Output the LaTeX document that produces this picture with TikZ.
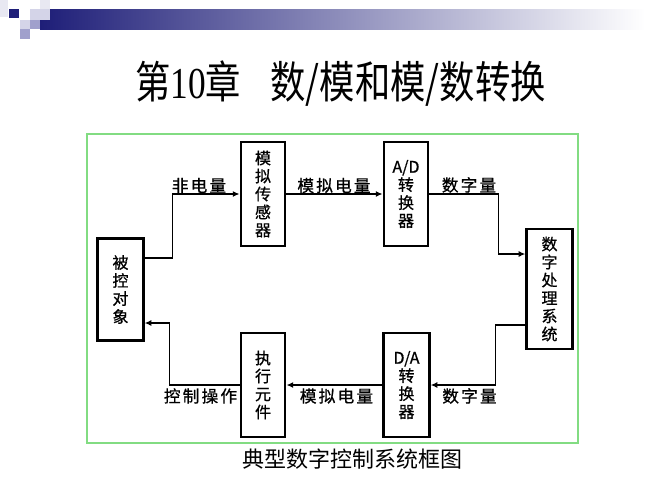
\documentclass[tikz,border=0pt]{standalone}
\usepackage{fontspec}
\usepackage{tikz}
\usetikzlibrary{arrows.meta,calc}
\newfontfamily\cjk{Noto Sans CJK SC}
\newfontfamily\cjkbox[FakeBold=0.8]{Noto Sans CJK SC}
\newfontfamily\cjksig[LetterSpace=13,FakeBold=0.8]{Noto Sans CJK SC}
\newfontfamily\titleserif{Liberation Serif}
\definecolor{slidenavy}{RGB}{30,30,120}
\definecolor{framegreen}{RGB}{130,220,130}
\definecolor{sqlight}{RGB}{212,212,232}
\definecolor{sqmid}{RGB}{160,160,204}
\definecolor{sqpale}{RGB}{232,232,242}
\tikzset{
	blockbox/.style={draw, line width=2.2pt, inner sep=0pt, minimum width=33pt, minimum height=78pt, align=center, font={\cjkbox\fontsize{12pt}{13.5pt}\selectfont}},
	flow/.style={line width=1.1pt, -{Latex[length=5pt,width=4.5pt]}},
	sigtext/.style={inner sep=0pt, font={\cjksig\fontsize{12.5pt}{13.5pt}\selectfont}},
}

\begin{document}
\begin{tikzpicture}[x=0.75pt, y=-0.75pt]
	\useasboundingbox (0,0) rectangle (667,500);
	% Slide header:
	\shade[left color=slidenavy, right color=white] (40,9) rectangle (645,29);
	\fill[sqpale] (0,0) rectangle (8,17);
	\fill[sqpale] (40,0) rectangle (50,9);
	\fill[sqlight] (30,9) rectangle (50,20);
	\fill[sqlight] (20,20) rectangle (30,29);
	\fill[sqmid] (30,20) rectangle (40,29);
	\fill[sqmid] (20,29) rectangle (30,39);
	\fill[slidenavy] (9,9) rectangle (19,18);
	\node (title) at (340.5,83.5){\scalebox{1}[1.25]{\cjk\fontsize{26.5pt}{30pt}\selectfont 第{\titleserif 10}章\hspace{22pt}数/模和模/数转换}};
	% Frame, blocks and signals:
	\draw[framegreen, line width=1pt] (87,134) rectangle (578,443);
	\node[blockbox, minimum width=34pt, minimum height=77pt](obj) at (120.5,289.5){被\\控\\对\\象};
	\node[blockbox](sensor) at (263,194){模\\拟\\传\\感\\器};
	\node[blockbox](adc) at (406,194){A/D\\转\\换\\器};
	\node[blockbox, minimum width=34pt, minimum height=90pt](proc) at (549.5,289){数\\字\\处\\理\\系\\统};
	\node[blockbox, minimum width=34pt](dac) at (406.5,385){D/A\\转\\换\\器};
	\node[blockbox](act) at (263,385){执\\行\\元\\件};
	\draw[flow] ($(obj.east)+(0,-31.5)$) -- ++(28,0) |- (sensor.west);
	\draw[flow] (sensor) -- (adc);
	\draw[flow] (adc.east) -- ++(69,0) |- ($(proc.west)+(0,-35)$);
	\draw[flow] ($(proc.west)+(0,36)$) -- ++(-30,0) |- (dac.east);
	\draw[flow] (dac) -- (act);
	\draw[flow] (act.west) -- ++(-70,0) |- ($(obj.east)+(0,33.5)$);
	\node[sigtext](nonelec) at (199,185.5){非电量};
	\node[sigtext](analogtop) at (334,185.5){模拟电量};
	\node[sigtext](digitaltop) at (469,185){数字量};
	\node[sigtext](digitalbot) at (469.5,396){数字量};
	\node[sigtext](analogbot) at (336.5,396){模拟电量};
	\node[sigtext](ctrlop) at (200.5,396){控制操作};
	\node[font={\cjk\fontsize{16.5pt}{18pt}\selectfont}](caption) at (352.5,459){典型数字控制系统框图};
\end{tikzpicture}
\end{document}
